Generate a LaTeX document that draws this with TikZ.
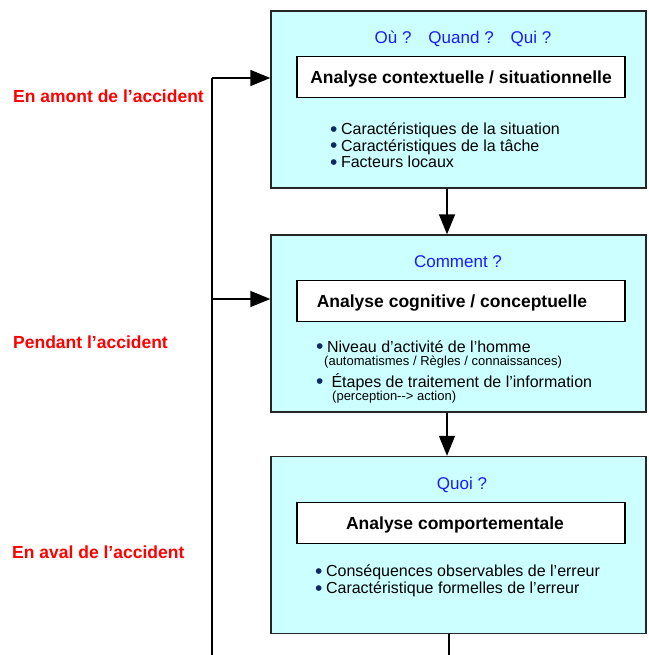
\documentclass[tikz,border=0pt]{standalone}
\usepackage{fontspec}
\setmainfont{Liberation Sans}
\usetikzlibrary{arrows.meta}
\definecolor{fond}{HTML}{CCFFFF}
\definecolor{bleu}{HTML}{1A1AFF}
\definecolor{rouge}{HTML}{FF0000}
\definecolor{marine}{HTML}{0A2A66}
\newcommand{\pastille}{{\color{marine}\raisebox{-1.6pt}{\fontsize{21}{16}\selectfont\textbullet}}\hspace{3.5pt}}
\tikzset{
  etape/.style={draw=black!85, line width=1.4pt, fill=fond, minimum width=375pt, minimum height=177pt, inner sep=0pt},
  cadre/.style={draw=black, line width=1.2pt, fill=white, minimum width=328pt, minimum height=41pt, inner sep=0pt},
  titre/.style={font=\bfseries\fontsize{17.5}{20}\selectfont, inner sep=0pt},
  question/.style={text=bleu, font=\fontsize{17}{20}\selectfont, inner sep=0pt},
  phase/.style={text=rouge, font=\bfseries\fontsize{17.5}{20}\selectfont, anchor=west, inner sep=0pt},
  liste/.style={font=\fontsize{16}{16.5}\selectfont, anchor=west, inner sep=0pt, align=left},
  precision/.style={font=\fontsize{13}{15}\selectfont, anchor=west, inner sep=0pt},
  fleche/.style={line width=1.5pt, -{Triangle[length=20pt, width=16pt]}},
  trait/.style={line width=1.5pt}
}
\begin{document}
\begin{tikzpicture}[x=1pt, y=-1pt]
\useasboundingbox (0,0) rectangle (648,655);
% Etapes
\node[etape] (contexte) at (458.5,99.5) {};
\node[etape] (cognitif) at (458.5,323.5) {};
\node[etape] (comportement) at (458.5,545) {};
% Questions
\node[question] (q1) at (463,38.5) {Où ?\quad Quand ?\quad Qui ?};
\node[question] (q2) at (458,261.5) {Comment ?};
\node[question] (q3) at (462,484.5) {Quoi ?};
% Cadres
\node[cadre] (c1) at (461,77) {};
\node[cadre] (c2) at (461,301) {};
\node[cadre] (c3) at (461,523) {};
\node[titre] (t1) at (461,79) {Analyse contextuelle / situationnelle};
\node[titre] (t2) at (452,303) {Analyse cognitive / conceptuelle};
\node[titre] (t3) at (455,525) {Analyse comportementale};
% Listes
\node[liste] (l1) at (330,146) {\pastille Caractéristiques de la situation\\ \pastille Caractéristiques de la tâche\\ \pastille Facteurs locaux};
\node[liste] (l2a) at (316,347) {\pastille Niveau d’activité de l’homme};
\node[precision] (l2b) at (324,362) {(automatismes / Règles / connaissances)};
\node[liste] (l2c) at (316,382) {\pastille\ Étapes de traitement de l’information};
\node[precision] (l2d) at (332,397) {(perception-{}-> action)};
\node[liste] (l3) at (315,581) {\pastille Conséquences observables de l’erreur\\ \pastille Caractéristique formelles de l’erreur};
% Phases
\node[phase] (amont) at (13,96) {En amont de l’accident};
\node[phase] (pendant) at (13,342) {Pendant l’accident};
\node[phase] (aval) at (12,552) {En aval de l’accident};
% Liaisons
\coordinate (haut) at (212,78);
\coordinate (milieu) at (212,299);
\coordinate (bas) at (212,655);
\draw[trait] (haut) -- (bas);
\draw[fleche] (haut) -- (haut -| contexte.west);
\draw[fleche] (milieu) -- (milieu -| cognitif.west);
\coordinate (axe) at (447,0);
\draw[fleche] (contexte.south -| axe) -- (cognitif.north -| axe);
\draw[fleche] (cognitif.south -| axe) -- (comportement.north -| axe);
\coordinate (sortie) at (449,655);
\draw[trait] (comportement.south -| sortie) -- (sortie);
\end{tikzpicture}
\end{document}
